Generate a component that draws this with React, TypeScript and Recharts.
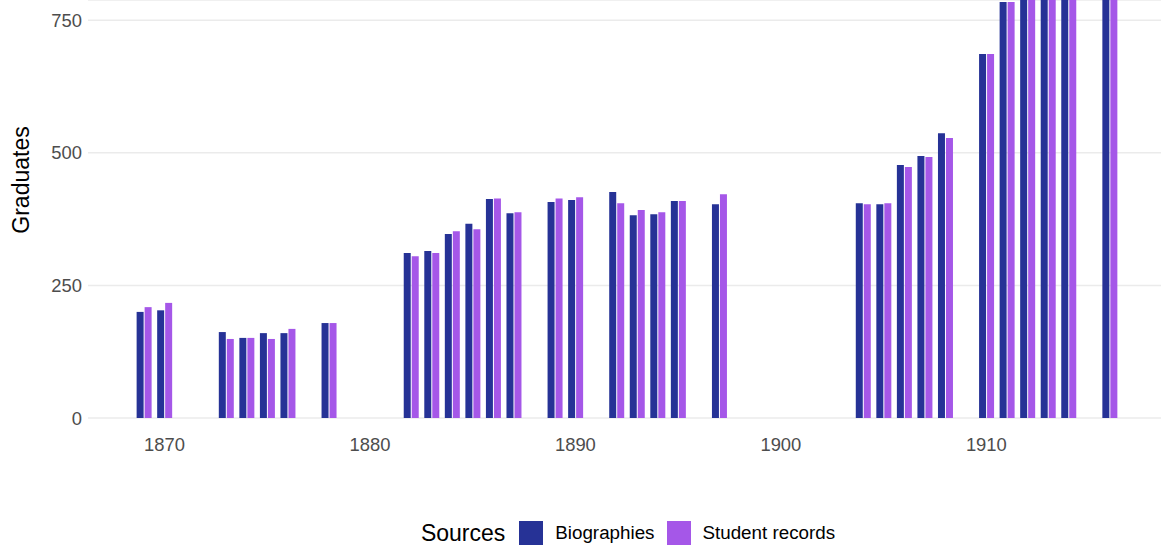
import { BarChart, Bar, XAxis, YAxis, CartesianGrid, Legend } from "recharts";

// graduates per year (values above ~790 are clipped there, so guessed)
const years = [
  1869, 1870, 1873, 1874, 1875, 1876, 1878, 1882, 1883, 1884, 1885, 1886, 1887,
  1889, 1890, 1892, 1893, 1894, 1895, 1897, 1904, 1905, 1906, 1907, 1908, 1910,
  1911, 1912, 1913, 1914, 1916,
];
const biographies = [
  200, 203, 162, 151, 160, 160, 179, 311, 315, 347, 366, 413, 386, 407, 411,
  426, 382, 384, 409, 403, 405, 403, 477, 494, 537, 686, 784, 830, 880, 930,
  1000,
];
const studentRecords = [
  209, 217, 149, 151, 149, 168, 179, 305, 311, 352, 356, 414, 388, 414, 416,
  405, 392, 388, 409, 422, 403, 405, 473, 492, 528, 686, 784, 835, 875, 930,
  1000,
];
const xTicks = [1870, 1880, 1890, 1900, 1910];
const yTicks = [0, 250, 500, 750];

const COLORS = { bio: "#263296", student: "#a557e8" };
const FONT = "'Liberation Sans', Arial, sans-serif";

const data = years.map((year, i) => ({
  year,
  Biographies: biographies[i],
  "Student records": studentRecords[i],
}));

const renderLegend = () => (
  <div
    style={{
      display: "flex",
      justifyContent: "center",
      alignItems: "center",
      fontFamily: FONT,
      color: "#000",
      height: 24,
    }}
  >
    <span style={{ fontSize: 23, marginRight: 14 }}>Sources</span>
    <span style={{ width: 24, height: 24, background: COLORS.bio }} />
    <span style={{ fontSize: 18.8, marginLeft: 12, marginRight: 13 }}>
      Biographies
    </span>
    <span style={{ width: 24, height: 24, background: COLORS.student }} />
    <span style={{ fontSize: 18.8, marginLeft: 11 }}>Student records</span>
  </div>
);

const yTitle = () => (
  <text
    x={21}
    y={180}
    transform="rotate(-90 21 180)"
    textAnchor="middle"
    dominantBaseline="central"
    fontFamily={FONT}
    fontSize={23}
    fill="#000"
  >
    Graduates
  </text>
);

export default function App() {
  return (
    <div style={{ position: "absolute", top: 0, left: 0 }}>
      <BarChart
        width={1161}
        height={546}
        data={data}
        margin={{ top: 0, right: 0, bottom: 88, left: 0 }}
        barSize={7}
        barGap={1}
      >
        <CartesianGrid vertical={false} stroke="#ebebeb" strokeWidth={1.5} />
        <XAxis
          dataKey="year"
          type="number"
          domain={[1866.28, 1918.5]}
          ticks={xTicks}
          allowDataOverflow
          axisLine={false}
          tickLine={false}
          tickSize={6}
          tickMargin={14}
          height={40}
          tick={{ fill: "#4d4d4d", fontSize: 18.4, fontFamily: FONT }}
        />
        <YAxis
          type="number"
          domain={[0, 788]}
          ticks={yTicks}
          allowDataOverflow
          axisLine={false}
          tickLine={false}
          tickSize={6}
          tickMargin={0}
          width={88}
          tick={{ fill: "#4d4d4d", fontSize: 18.4, fontFamily: FONT }}
          label={{ content: yTitle }}
        />
        <Legend
          layout="horizontal"
          verticalAlign="middle"
          align="center"
          wrapperStyle={{ top: 521, left: 89, width: 1078 }}
          content={renderLegend}
        />
        <Bar dataKey="Biographies" fill={COLORS.bio} isAnimationActive={false} />
        <Bar
          dataKey="Student records"
          fill={COLORS.student}
          isAnimationActive={false}
        />
      </BarChart>
    </div>
  );
}
